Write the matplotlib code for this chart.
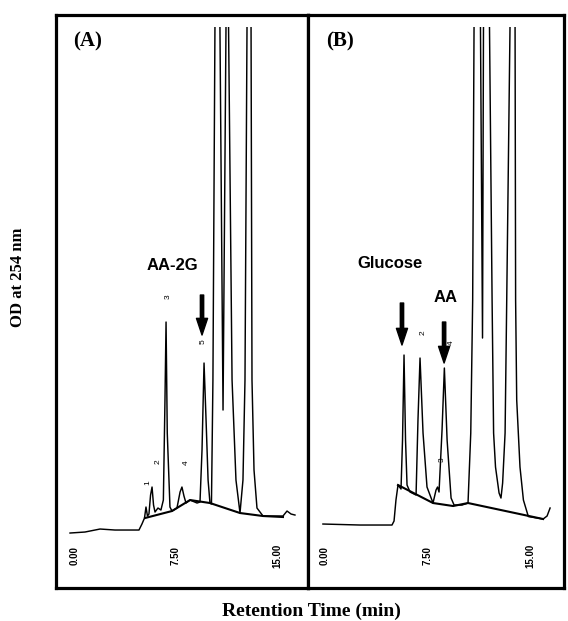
import matplotlib
matplotlib.use('Agg')
import matplotlib.pyplot as plt
from matplotlib.patches import Rectangle

# Panel A trace: retention time (min) and detector signal (arbitrary units)
time_a = [-0.37, 0.74, 1.86, 2.97, 4.75, 4.97, 5.16, 5.27, 5.38, 5.49, 5.61, 5.72,
          5.83, 5.94, 6.16, 6.38, 6.56, 6.68, 6.76, 6.85, 7.05, 7.20, 7.57, 7.80,
          7.94, 8.09, 8.24, 8.54, 9.06, 9.28, 9.43, 9.58, 9.73, 9.88, 10.02, 10.13,
          10.24, 10.39, 10.58, 10.76, 10.99, 11.21, 11.31, 11.40, 11.66, 11.95, 12.25,
          12.47, 12.62, 12.77, 12.92, 13.07, 13.14, 13.29, 13.51, 13.96, 15.44, 15.74,
          16.04, 16.33]
signal_a = [1.4, 1.6, 2.2, 2.0, 2.0, 3.2, 4.4, 6.6, 4.8, 5.2, 9.0, 10.6,
            7.0, 5.6, 6.4, 6.0, 8.0, 28.0, 43.6, 21.4, 6.6, 5.8, 6.4, 9.6,
            10.6, 8.8, 7.4, 8.0, 7.4, 7.6, 18.0, 35.4, 24.0, 12.0, 7.4, 7.2,
            32.0, 102.6, 128.0, 102.6, 26.0, 102.6, 128.0, 102.6, 32.0, 12.0, 5.4,
            12.0, 32.0, 102.6, 128.0, 102.6, 32.0, 14.0, 6.4, 4.8, 4.8, 5.8,
            5.2, 5.0]
base_time_a = [5.20, 7.20, 8.54, 10.02, 12.25, 13.96, 15.44]
base_signal_a = [4.4, 5.8, 8.0, 7.4, 5.4, 4.8, 4.6]

# Panel B trace
time_b = [-0.15, 2.56, 4.90, 5.05, 5.19, 5.34, 5.56, 5.67, 5.78, 5.89, 6.00, 6.22,
          6.66, 6.80, 6.95, 7.17, 7.46, 7.90, 8.12, 8.23, 8.34, 8.56, 8.73, 8.93,
          9.22, 9.44, 10.02, 10.46, 10.66, 10.80, 10.90, 11.12, 11.37, 11.52, 11.59,
          11.81, 12.03, 12.22, 12.33, 12.47, 12.73, 12.87, 12.99, 13.17, 13.29, 13.53,
          13.72, 13.90, 13.94, 14.02, 14.26, 14.51, 14.87, 15.95, 16.24, 16.46]
signal_b = [3.2, 3.0, 3.0, 3.8, 8.0, 11.0, 10.2, 20.0, 37.0, 20.0, 11.0, 9.6,
            9.0, 24.0, 36.4, 21.4, 10.6, 7.4, 10.0, 10.6, 9.6, 22.0, 34.4, 20.0,
            8.4, 7.0, 7.0, 7.4, 21.4, 48.0, 102.6, 128.0, 102.6, 40.4, 102.6,
            128.0, 102.6, 48.0, 21.4, 14.6, 9.4, 8.4, 11.4, 21.4, 48.0, 102.6,
            128.0, 102.6, 48.0, 28.0, 14.6, 8.0, 4.7, 4.2, 4.8, 6.4]
base_time_b = [5.34, 7.90, 9.37, 10.46, 15.95]
base_signal_b = [11.0, 7.4, 6.8, 7.4, 4.2]

tick_times = [0, 7.5, 15]
tick_labels_a = ['0.00', '7.50', '15.00']
tick_labels_b = ['0.00', '7.50', '15.00']

peak_names_a = ['1', '2', '3', '4', '5']
peak_pos_a = [(5.42, 11.4), (6.16, 15.6), (6.90, 48.6), (8.24, 15.4), (9.50, 39.6)]
peak_names_b = ['2', '3', '4']
peak_pos_b = [(7.17, 41.4), (8.56, 16.0), (9.22, 39.4)]

PEN_LIMIT = 102.6
YLIM = (-9.6, 105)

sans = ['Liberation Sans', 'DejaVu Sans']
serif = ['Liberation Serif', 'DejaVu Serif']

fig = plt.figure(figsize=(5.68, 6.21), dpi=100)
ax_a = fig.add_axes([0.0986, 0.0531, 0.4437, 0.9227])
ax_b = fig.add_axes([0.5423, 0.0531, 0.4507, 0.9227])


def draw_panel(ax, t, s, bt, bs, xlim, labels, letter, peak_names, peak_pos):
    ax.set_xlim(*xlim)
    ax.set_ylim(*YLIM)
    ax.set_xticks([])
    ax.set_yticks([])
    for sp in ax.spines.values():
        sp.set_linewidth(2.3)
    # pen limit of the recorder: peaks run off the top of the chart
    clip = Rectangle((xlim[0], YLIM[0]), xlim[1] - xlim[0], PEN_LIMIT - YLIM[0],
                     transform=ax.transData, fill=False, visible=False)
    ax.add_patch(clip)
    line, = ax.plot(t, s, color='black', lw=1.05, solid_joinstyle='round')
    line.set_clip_path(clip)
    ax.plot(bt, bs, color='black', lw=1.5)
    for tt, lab in zip(tick_times, labels):
        ax.text(tt, -3.2, lab, rotation=90, ha='center', va='center',
                fontsize=7, fontweight='bold', family=sans)
    ax.text(0.125, 0.953, letter, transform=ax.transAxes, ha='center', va='center',
            fontsize=15, fontweight='bold', family=serif)
    for name, (px, py) in zip(peak_names, peak_pos):
        ax.text(px, py, name, rotation=90, ha='center', va='center',
                fontsize=6, family=sans)


def arrow(ax, t, s_tail, s_tip):
    ax.annotate('', xy=(t, s_tip), xytext=(t, s_tail),
                arrowprops=dict(arrowstyle='simple,head_width=0.8,head_length=1.2,tail_width=0.24',
                                color='black', shrinkA=0, shrinkB=0, mutation_scale=10))


draw_panel(ax_a, time_a, signal_a, base_time_a, base_signal_a, (-1.41, 17.30),
           tick_labels_a, '(A)', peak_names_a, peak_pos_a)
draw_panel(ax_b, time_b, signal_b, base_time_b, base_signal_b, (-1.24, 17.48),
           tick_labels_b, '(B)', peak_names_b, peak_pos_b)

ax_a.text(7.20, 55.0, 'AA-2G', ha='center', va='center', fontsize=12,
          fontweight='bold', family=sans)
arrow(ax_a, 9.43, 49.0, 41.0)

ax_b.text(4.75, 55.4, 'Glucose', ha='center', va='center', fontsize=12,
          fontweight='bold', family=sans)
ax_b.text(8.85, 48.6, 'AA', ha='center', va='center', fontsize=12,
          fontweight='bold', family=sans)
arrow(ax_b, 5.63, 47.4, 39.0)
arrow(ax_b, 8.71, 43.6, 35.4)

fig.text(0.032, 0.553, 'OD at 254 nm', rotation=90, ha='center', va='center',
         fontsize=12, fontweight='bold', family=serif)
fig.text(0.549, 0.016, 'Retention Time (min)', ha='center', va='center',
         fontsize=14, fontweight='bold', family=serif)

fig.savefig('out.png', dpi=100)
